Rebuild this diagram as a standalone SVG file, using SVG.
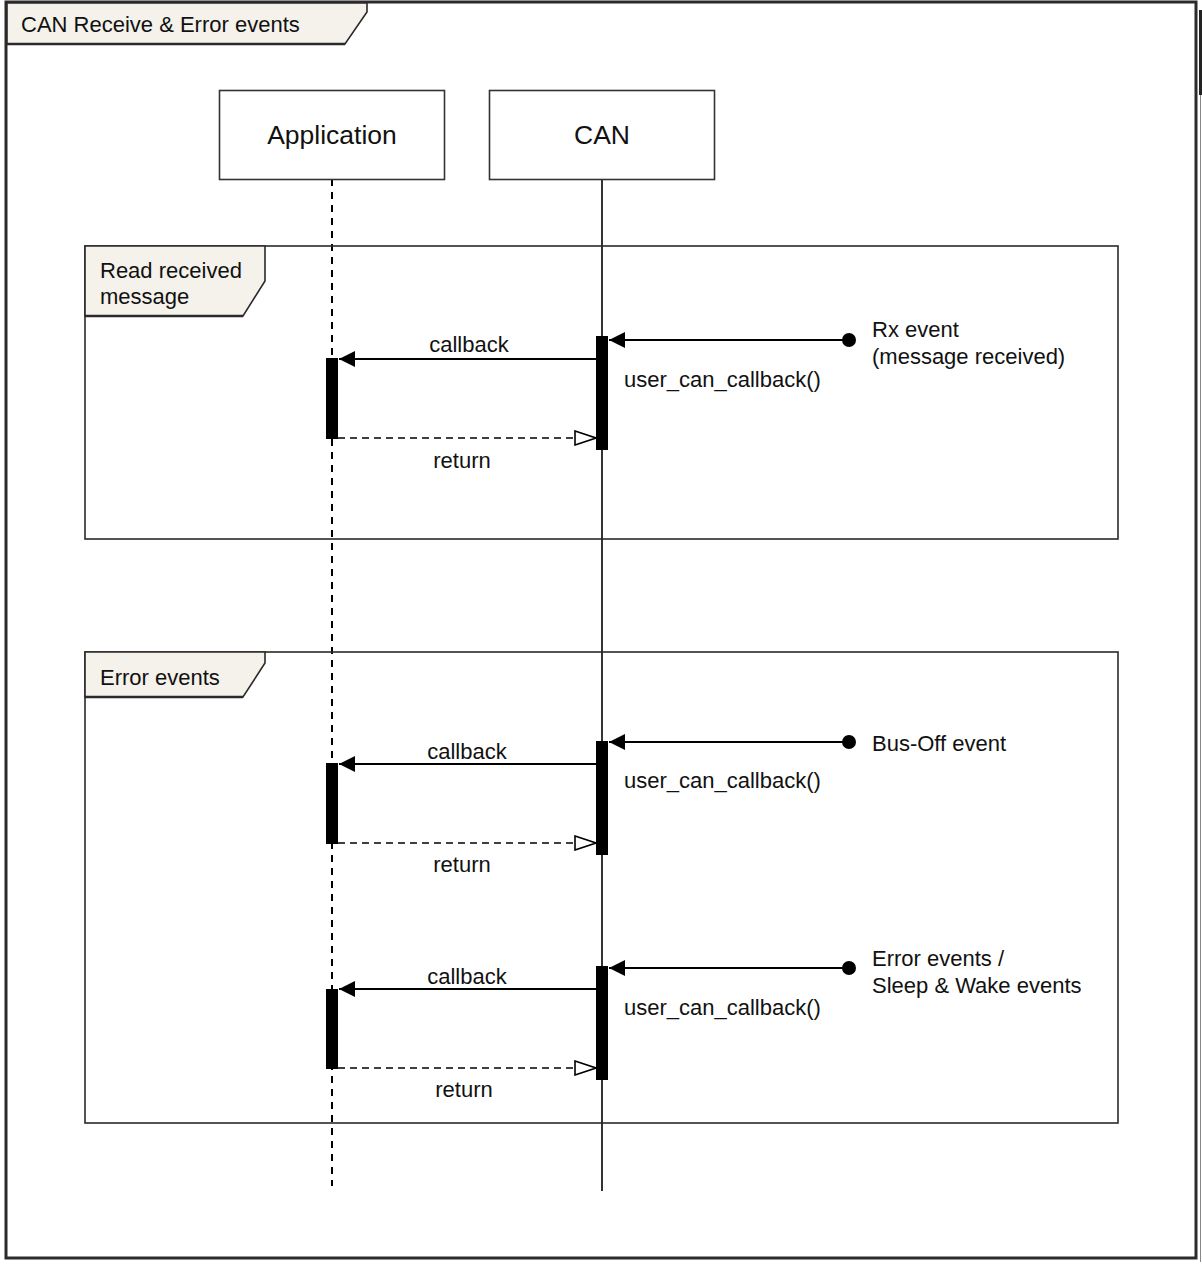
<svg xmlns="http://www.w3.org/2000/svg" width="1202" height="1266" viewBox="0 0 1202 1266">
<defs>
<style>
text{font-family:"Liberation Sans",Arial,Helvetica,sans-serif;fill:#111;}
.lbl{font-size:22px;}
.title{font-size:26.5px;}
.frame{fill:none;stroke:#2a2a2a;stroke-width:1.6;}
.tab{fill:#f4f2eb;stroke:#2a2a2a;stroke-width:1.6;}
.life{fill:#fff;stroke:#333;stroke-width:1.6;}
.act{fill:#000;}
.msg{stroke:#000;stroke-width:1.8;fill:none;}
.ret{stroke:#000;stroke-width:1.6;fill:none;stroke-dasharray:7 5;}
</style>
<marker id="filled" viewBox="0 0 16 16" refX="16" refY="8" markerWidth="16" markerHeight="16" markerUnits="userSpaceOnUse" orient="auto">
<path d="M0,0 L16,8 L0,16 Z" fill="#000"/>
</marker>
<marker id="open" viewBox="0 0 24 16" refX="22" refY="8" markerWidth="24" markerHeight="16" markerUnits="userSpaceOnUse" orient="auto">
<path d="M1,1 L22,8 L1,15 Z" fill="#fff" stroke="#000" stroke-width="1.6"/>
</marker>
</defs>
<rect width="1202" height="1266" fill="#fff"/>

<g id="outer-frame">
<rect x="6" y="2" width="1190" height="1256" fill="none" stroke="#2b2b2b" stroke-width="3"/>
<line x1="1200.5" y1="10" x2="1200.5" y2="95" stroke="#222" stroke-width="3"/>
<line x1="1200.5" y1="95" x2="1200.5" y2="1262" stroke="#888" stroke-width="1"/>
<polygon class="tab" points="7,3 367,3 367,12 345,44 7,44"/>
<line x1="7" y1="44" x2="345" y2="44" stroke="#2a2a2a" stroke-width="2.5"/>
<text class="lbl" x="21" y="32">CAN Receive &amp; Error events</text>
</g>

<g id="lifeline-application">
<line x1="332" y1="179" x2="332" y2="1186" stroke="#000" stroke-width="2" stroke-dasharray="7 6"/>
<rect class="life" x="219.5" y="90.5" width="225" height="89"/>
<text class="title" x="332" y="144" text-anchor="middle">Application</text>
</g>

<g id="lifeline-can">
<line x1="602" y1="179" x2="602" y2="1191" stroke="#000" stroke-width="1.6"/>
<rect class="life" x="489.5" y="90.5" width="225" height="89"/>
<text class="title" x="602" y="144" text-anchor="middle">CAN</text>
</g>

<g id="fragment-read">
<rect class="frame" x="85" y="246" width="1033" height="293"/>
<polygon class="tab" points="85,246 265,246 265,281 243,316 85,316"/>
<line x1="85" y1="316" x2="243" y2="316" stroke="#2a2a2a" stroke-width="2.5"/>
<text class="lbl" x="100" y="278">Read received</text>
<text class="lbl" x="100" y="304">message</text>
</g>

<g id="fragment-error">
<rect class="frame" x="85" y="652" width="1033" height="471"/>
<polygon class="tab" points="85,652 265,652 265,663 243,697 85,697"/>
<line x1="85" y1="697" x2="243" y2="697" stroke="#2a2a2a" stroke-width="2.5"/>
<text class="lbl" x="100" y="685">Error events</text>
</g>

<g id="activations">
<rect class="act" x="596" y="336" width="12" height="114"/>
<rect class="act" x="326" y="358" width="12" height="81"/>
<rect class="act" x="596" y="741" width="12" height="114"/>
<rect class="act" x="326" y="763" width="12" height="81"/>
<rect class="act" x="596" y="966" width="12" height="114"/>
<rect class="act" x="326" y="989" width="12" height="80"/>
</g>

<g id="connectors">
<line class="msg" x1="849" y1="340" x2="609" y2="340" marker-end="url(#filled)"/>
<circle cx="849" cy="340" r="7" fill="#000"/>
<line class="msg" x1="596" y1="359" x2="339" y2="359" marker-end="url(#filled)"/>
<line class="ret" x1="338" y1="438" x2="596" y2="438" marker-end="url(#open)"/>

<line class="msg" x1="849" y1="742" x2="609" y2="742" marker-end="url(#filled)"/>
<circle cx="849" cy="742" r="7" fill="#000"/>
<line class="msg" x1="596" y1="764" x2="339" y2="764" marker-end="url(#filled)"/>
<line class="ret" x1="338" y1="843" x2="596" y2="843" marker-end="url(#open)"/>

<line class="msg" x1="849" y1="968" x2="609" y2="968" marker-end="url(#filled)"/>
<circle cx="849" cy="968" r="7" fill="#000"/>
<line class="msg" x1="596" y1="989" x2="339" y2="989" marker-end="url(#filled)"/>
<line class="ret" x1="338" y1="1068" x2="596" y2="1068" marker-end="url(#open)"/>
</g>

<g id="labels">
<text class="lbl" x="469" y="352" text-anchor="middle">callback</text>
<text class="lbl" x="624" y="387">user_can_callback()</text>
<text class="lbl" x="462" y="468" text-anchor="middle">return</text>
<text class="lbl" x="872" y="337">Rx event</text>
<text class="lbl" x="872" y="364">(message received)</text>

<text class="lbl" x="467" y="759" text-anchor="middle">callback</text>
<text class="lbl" x="624" y="788">user_can_callback()</text>
<text class="lbl" x="462" y="872" text-anchor="middle">return</text>
<text class="lbl" x="872" y="751">Bus-Off event</text>

<text class="lbl" x="467" y="984" text-anchor="middle">callback</text>
<text class="lbl" x="624" y="1015">user_can_callback()</text>
<text class="lbl" x="464" y="1097" text-anchor="middle">return</text>
<text class="lbl" x="872" y="966">Error events /</text>
<text class="lbl" x="872" y="993">Sleep &amp; Wake events</text>
</g>
</svg>
